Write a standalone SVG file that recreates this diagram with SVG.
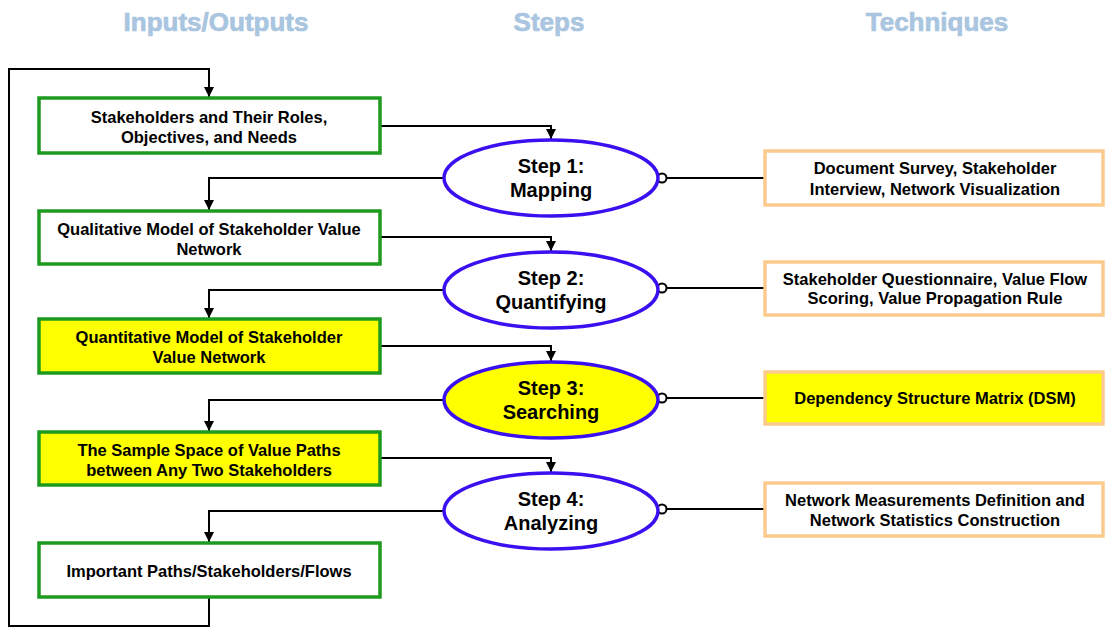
<svg xmlns="http://www.w3.org/2000/svg" width="1105" height="631" viewBox="0 0 1105 631">
<style>
text{font-family:"Liberation Sans",Arial,sans-serif;font-weight:bold;text-anchor:middle;fill:#000}
.hdr{font-size:26px;fill:#A9C5E0;stroke:#A9C5E0;stroke-width:0.7}
.io{fill:#fff;stroke:#1E9B1E;stroke-width:3.5}
.st{fill:#fff;stroke:#3A10F0;stroke-width:3.5}
.tq{fill:#fff;stroke:#FBCB8E;stroke-width:3.5}
.hl{fill:#FFFF00}
.t16{font-size:16.5px}
.t20{font-size:20px}
.c{fill:none;stroke:#000;stroke-width:2}
.dot{fill:#fff;stroke:#000;stroke-width:2}
</style>
<defs>
<marker id="ah" viewBox="0 0 10 10" refX="10" refY="5" markerWidth="5" markerHeight="5" markerUnits="strokeWidth" orient="auto">
<path d="M0,0 L10,5 L0,10 Z" fill="#000"/>
</marker>
</defs>
<g id="headers">
<text class="hdr" x="216" y="31">Inputs/Outputs</text>
<text class="hdr" x="549" y="31">Steps</text>
<text class="hdr" x="937" y="31">Techniques</text>
</g>
<g id="connectors">
<path class="c" d="M209,597 V626 H9 V69 H209 V97" marker-end="url(#ah)"/>
<path class="c" d="M380,126 H551 V139" marker-end="url(#ah)"/>
<path class="c" d="M380,237 H551 V251" marker-end="url(#ah)"/>
<path class="c" d="M380,346 H551 V361" marker-end="url(#ah)"/>
<path class="c" d="M380,458 H551 V472" marker-end="url(#ah)"/>
<path class="c" d="M444,178 H209 V210" marker-end="url(#ah)"/>
<path class="c" d="M444,290 H209 V318" marker-end="url(#ah)"/>
<path class="c" d="M444,400 H209 V431" marker-end="url(#ah)"/>
<path class="c" d="M444,511 H209 V542" marker-end="url(#ah)"/>
<path class="c" d="M666,178 H765"/>
<path class="c" d="M666,288 H765"/>
<path class="c" d="M666,398 H765"/>
<path class="c" d="M666,509 H765"/>
<circle class="dot" cx="662" cy="178" r="4.5"/>
<circle class="dot" cx="662" cy="288" r="4.5"/>
<circle class="dot" cx="662" cy="398" r="4.5"/>
<circle class="dot" cx="662" cy="509" r="4.5"/>
</g>
<g id="io1"><rect class="io" x="39" y="98" width="341" height="55"/><text class="t16" x="209" y="123">Stakeholders and Their Roles,</text><text class="t16" x="209" y="143">Objectives, and Needs</text></g>
<g id="io2"><rect class="io" x="39" y="211" width="341" height="53"/><text class="t16" x="209" y="235">Qualitative Model of Stakeholder Value</text><text class="t16" x="209" y="255">Network</text></g>
<g id="io3"><rect class="io hl" x="39" y="319" width="341" height="54"/><text class="t16" x="209" y="343">Quantitative Model of Stakeholder</text><text class="t16" x="209" y="363">Value Network</text></g>
<g id="io4"><rect class="io hl" x="39" y="432" width="341" height="53"/><text class="t16" x="209" y="456">The Sample Space of Value Paths</text><text class="t16" x="209" y="476">between Any Two Stakeholders</text></g>
<g id="io5"><rect class="io" x="39" y="543" width="341" height="54"/><text class="t16" x="209" y="577">Important Paths/Stakeholders/Flows</text></g>
<g id="step1"><ellipse class="st" cx="551" cy="178" rx="107" ry="38"/><text class="t20" x="551" y="173">Step 1:</text><text class="t20" x="551" y="197">Mapping</text></g>
<g id="step2"><ellipse class="st" cx="551" cy="290" rx="107" ry="38"/><text class="t20" x="551" y="285">Step 2:</text><text class="t20" x="551" y="309">Quantifying</text></g>
<g id="step3"><ellipse class="st hl" cx="551" cy="400" rx="107" ry="38"/><text class="t20" x="551" y="395">Step 3:</text><text class="t20" x="551" y="419">Searching</text></g>
<g id="step4"><ellipse class="st" cx="551" cy="511" rx="107" ry="38"/><text class="t20" x="551" y="506">Step 4:</text><text class="t20" x="551" y="530">Analyzing</text></g>
<g id="tq1"><rect class="tq" x="765" y="151" width="338" height="54"/><text class="t16" x="935" y="174">Document Survey, Stakeholder</text><text class="t16" x="935" y="195">Interview, Network Visualization</text></g>
<g id="tq2"><rect class="tq" x="765" y="262" width="338" height="53"/><text class="t16" x="935" y="285">Stakeholder Questionnaire, Value Flow</text><text class="t16" x="935" y="304">Scoring, Value Propagation Rule</text></g>
<g id="tq3"><rect class="tq hl" x="765" y="372" width="338" height="52"/><text class="t16" x="935" y="404">Dependency Structure Matrix (DSM)</text></g>
<g id="tq4"><rect class="tq" x="765" y="483" width="338" height="53"/><text class="t16" x="935" y="506">Network Measurements Definition and</text><text class="t16" x="935" y="526">Network Statistics Construction</text></g>
</svg>
